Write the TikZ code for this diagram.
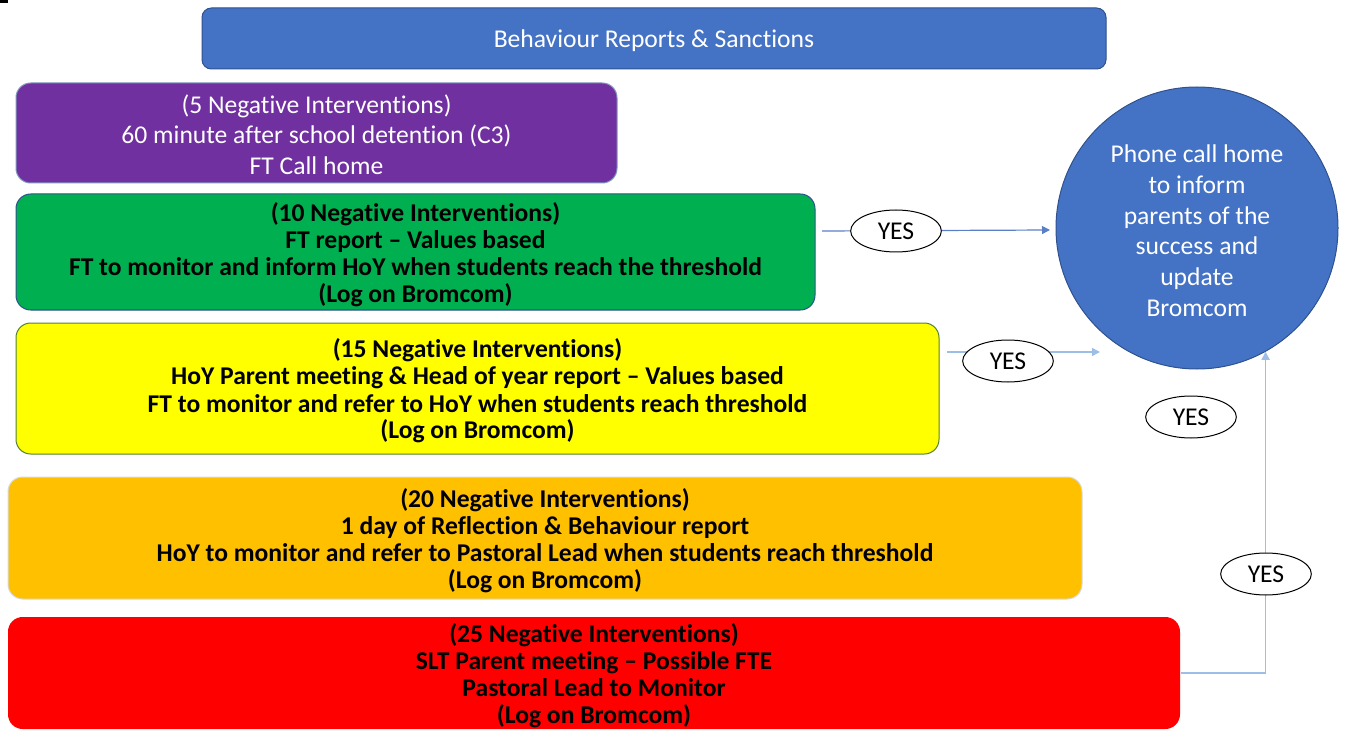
\documentclass[tikz,border=0pt]{standalone}
\usepackage{fontspec}
\setmainfont{Carlito}[Ligatures=NoCommon]
\usetikzlibrary{arrows.meta,shapes.geometric}
\definecolor{tblue}{RGB}{68,114,196}
\definecolor{bdark}{RGB}{47,82,143}
\definecolor{tpurple}{RGB}{112,48,160}
\definecolor{tgreen}{RGB}{0,176,80}
\definecolor{tyellow}{RGB}{255,255,0}
\definecolor{torange}{RGB}{255,192,0}
\definecolor{tred}{RGB}{255,0,0}
\definecolor{conn1}{RGB}{91,127,199}
\definecolor{conn2}{RGB}{157,190,230}
\definecolor{ygreen}{RGB}{84,130,53}
\begin{document}
\begin{tikzpicture}[x=0.75pt,y=-0.75pt,
  box/.style={rectangle,rounded corners=11pt,inner sep=0pt,line width=0.75pt},
  regtext/.style={align=center,inner sep=0pt,font=\fontsize{19.2}{22.8}\selectfont,text=white,yshift=-2pt},
  boldtext/.style={align=center,inner sep=0pt,font=\fontsize{19.2}{20.25}\selectfont\bfseries,text=black,yshift=-2pt},
  yesnode/.style={ellipse,draw=black,fill=white,line width=0.75pt,minimum width=68pt,minimum height=31.5pt,inner sep=0pt,font=\fontsize{19.2}{20}\selectfont},
  conna/.style={draw=conn1,line width=0.9pt,-{Triangle[length=6pt,width=6pt]}},
  connb/.style={draw=conn2,line width=1.2pt,-{Triangle[length=6pt,width=6pt]}},
]
\useasboundingbox (0,0) rectangle (1347,731);
\fill[black] (0,0) rectangle (8,3);

\node[box,rounded corners=7pt,draw=bdark,fill=tblue,minimum width=678pt,minimum height=45.75pt] (title) at (654,38.5) {};
\node[regtext] (ttitle) at (title.center) {Behaviour Reports \& Sanctions};

\node[box,draw=bdark!60,fill=tpurple,minimum width=450.75pt,minimum height=75pt] (p5) at (316.5,133) {};
\node[regtext,yshift=1pt] (t5) at (p5.center)
  {(5 Negative Interventions)\\60 minute after school detention (C3)\\FT Call home};

\node[box,draw=bdark,fill=tgreen,minimum width=599.25pt,minimum height=87pt] (p10) at (415.5,252) {};
\node[boldtext] (t10) at (p10.center)
  {(10 Negative Interventions)\\FT report -- Values based\\FT to monitor and inform HoY when students reach the threshold\\(Log on Bromcom)};

\node[box,draw=ygreen,fill=tyellow,minimum width=692.25pt,minimum height=98.25pt] (p15) at (477.5,388.5) {};
\node[boldtext] (t15) at (p15.center)
  {(15 Negative Interventions)\\HoY Parent meeting \& Head of year report -- Values based\\FT to monitor and refer to HoY when students reach threshold\\(Log on Bromcom)};

\node[box,draw=black!15,fill=torange,minimum width=805.5pt,minimum height=91.5pt] (p20) at (545,538) {};
\node[boldtext] (t20) at (p20.center)
  {(20 Negative Interventions)\\1 day of Reflection \& Behaviour report\\HoY to monitor and refer to Pastoral Lead when students reach threshold\\(Log on Bromcom)};

\node[box,fill=tred,minimum width=879pt,minimum height=84pt] (p25) at (594,673) {};
\node[boldtext] (t25) at (p25.center)
  {(25 Negative Interventions)\\SLT Parent meeting -- Possible FTE\\Pastoral Lead to Monitor\\(Log on Bromcom)};

\node[circle,draw=bdark,fill=tblue,line width=0.75pt,minimum size=211.5pt,inner sep=0pt] (home) at (1197,228) {};
\node[regtext,font=\fontsize{19.2}{23}\selectfont] (thome) at (home.center)
  {Phone call home\\to inform\\parents of the\\success and\\update\\Bromcom};

\coordinate (s1) at (822,231);
\coordinate (e1) at (1050,230);
\coordinate (s2) at (947,352);
\coordinate (e2) at (1100,352);

\draw[conna] (s1) -- (e1);
\draw[connb] (s2) -- (e2);
\draw[connb] (p25.east) -| (home.-61.4);

\node[yesnode] (yes1) at (896,231) {YES};
\node[yesnode] (yes2) at (1008,361) {YES};
\node[yesnode] (yes3) at (1191,417) {YES};
\node[yesnode] (yes4) at (1266,574) {YES};
\end{tikzpicture}
\end{document}
